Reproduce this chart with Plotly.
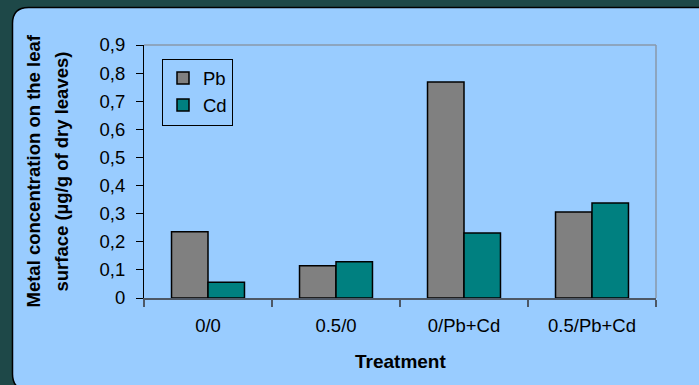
import plotly.graph_objects as go

categories = ["0/0", "0.5/0", "0/Pb+Cd", "0.5/Pb+Cd"]
pb_values = [0.236, 0.115, 0.768, 0.306]
cd_values = [0.056, 0.129, 0.231, 0.338]
series_names = ["Pb", "Cd"]
y_title_lines = ["Metal concentration on the leaf", "surface (µg/g of dry leaves)"]
x_title = "Treatment"

W_PX, H_PX = 699, 385
L, R, T, B = 144, 43, 45, 87
PW = W_PX - L - R
PH = H_PX - T - B

def px(x):
    return (x - L) / PW

def py(y):
    return (H_PX - B - y) / PH

FONT = "Liberation Sans, Arial, sans-serif"
FS = 18.5

fig = go.Figure()
fig.add_trace(go.Bar(x=categories, y=pb_values, name=series_names[0],
                     marker=dict(color="#808080", line=dict(color="#000000", width=1.5))))
fig.add_trace(go.Bar(x=categories, y=cd_values, name=series_names[1],
                     marker=dict(color="#008080", line=dict(color="#000000", width=1.5))))

# rounded light-blue panel
x0, y0, x1, y1, r = 12.5, 7.5, 716, 390, 16
pts = [
    ("M", (x0 + r, y0)), ("L", (x1 - r, y0)), ("Q", (x1, y0), (x1, y0 + r)),
    ("L", (x1, y1 - r)), ("Q", (x1, y1), (x1 - r, y1)), ("L", (x0 + r, y1)),
    ("Q", (x0, y1), (x0, y1 - r)), ("L", (x0, y0 + r)), ("Q", (x0, y0), (x0 + r, y0)),
]
path = ""
for p in pts:
    cmd = p[0]
    coords = " ".join(f"{px(a):.5f},{py(b):.5f}" for a, b in p[1:])
    path += f"{cmd} {coords} "
path += "Z"

shapes = [
    dict(type="path", xref="paper", yref="paper", path=path, layer="below",
         fillcolor="#99ccff", line=dict(color="#000000", width=1.5)),
    dict(type="line", xref="paper", yref="paper", x0=0, x1=1, y0=1, y1=1,
         line=dict(color="#8a98aa", width=1.5)),
    dict(type="line", xref="paper", yref="paper", x0=1, x1=1, y0=0, y1=1,
         line=dict(color="#8a98aa", width=1.5)),
]

annotations = [
    dict(text=f"<b>{y_title_lines[0]}</b>", xref="paper", yref="paper",
         x=px(33), y=0.5, textangle=-90, showarrow=False,
         font=dict(family=FONT, size=FS, color="#000000"), xanchor="center", yanchor="middle"),
    dict(text=f"<b>{y_title_lines[1]}</b>", xref="paper", yref="paper",
         x=px(61), y=0.5, textangle=-90, showarrow=False,
         font=dict(family=FONT, size=FS, color="#000000"), xanchor="center", yanchor="middle"),
    dict(text=f"<b>{x_title}</b>", xref="paper", yref="paper",
         x=0.5, y=py(362), showarrow=False,
         font=dict(family=FONT, size=FS + 0.5, color="#000000"), xanchor="center", yanchor="middle"),
]

fig.update_layout(
    width=W_PX, height=H_PX,
    margin=dict(l=L, r=R, t=T, b=B, pad=0),
    paper_bgcolor="#1e4848",
    plot_bgcolor="rgba(0,0,0,0)",
    separators=", ",
    barmode="group",
    bargap=0.43,
    bargroupgap=0,
    shapes=shapes,
    annotations=annotations,
    font=dict(family=FONT, size=FS, color="#000000"),
    showlegend=True,
    legend=dict(x=px(162), y=py(58.5), xanchor="left", yanchor="top",
                bgcolor="#99ccff", bordercolor="#000000", borderwidth=1,
                font=dict(family=FONT, size=FS, color="#000000"),
                itemwidth=30, tracegroupgap=0),
    xaxis=dict(showgrid=False, zeroline=False, showline=True, linecolor="#4d5866", linewidth=1.5,
               ticks="outside", tickson="boundaries", ticklen=7, tickcolor="#4d5866", tickwidth=1.5,
               ticklabelstandoff=10,
               tickfont=dict(family=FONT, size=FS, color="#000000"), fixedrange=True),
    yaxis=dict(range=[0, 0.9], dtick=0.1, tick0=0, showgrid=False, zeroline=False,
               showline=True, linecolor="#000000", linewidth=1.2,
               ticks="outside", ticklen=7, tickcolor="#000000", tickwidth=1.2,
               ticklabelstandoff=7,
               tickfont=dict(family=FONT, size=FS, color="#000000"), fixedrange=True),
)

fig.write_html("out.html")
